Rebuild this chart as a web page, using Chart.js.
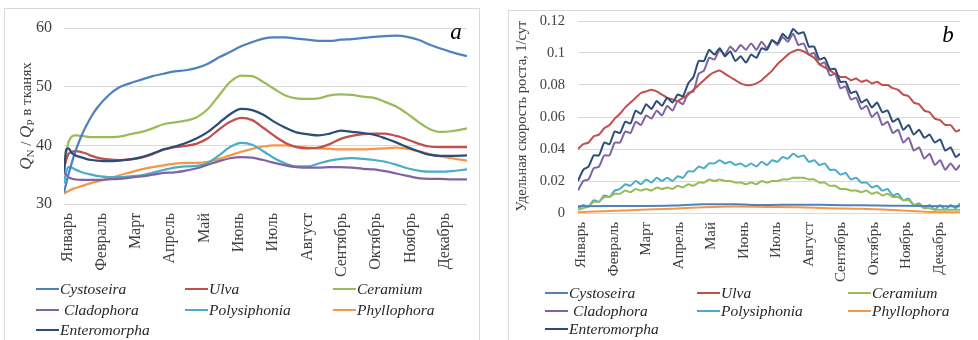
<!DOCTYPE html>
<html>
<head>
<meta charset="utf-8">
<script src="https://cdn.jsdelivr.net/npm/chart.js@4.4.1/dist/chart.umd.min.js"></script>
<style>
  body { margin:0; background:#fff; width:978px; height:340px; overflow:hidden; position:relative; font-family:'Liberation Serif', serif; }
  .panel { position:absolute; border:1px solid #d9d9d9; background:#fff; }
  #panelA { left:4px; top:8px; width:474px; height:340px; }
  #panelB { left:508px; top:10px; width:480px; height:340px; }
  .panel canvas { position:absolute; left:0; top:0; }
  .item { position:absolute; height:18px; white-space:pre; font:italic 15.5px 'Liberation Serif', serif; color:#262626; line-height:18px; }
  .item span { position:absolute; left:0; top:8px; width:23px; height:2px; }
  .item b { position:absolute; left:24px; top:0; font-weight:normal; }
</style>
</head>
<body>
<div class="panel" id="panelA"><canvas id="chartA" width="474" height="270"></canvas></div>
<div class="panel" id="panelB"><canvas id="chartB" width="470" height="277"></canvas></div>
<script>
// months on the x axis
var monthLabels = ['Январь','Февраль','Март','Апрель','Май','Июнь','Июль','Август','Сентябрь','Октябрь','Ноябрь','Декабрь'];
var seriesNames = ['Cystoseira','Ulva','Ceramium','Cladophora','Polysiphonia','Phyllophora','Enteromorpha'];
var seriesColors = ['#4F81BD','#C0504D','#9BBB59','#8064A2','#4BACC6','#F79646','#2C4D75'];

// panel a: QN/QP in tissues (day of year)
var daysA = [0,2,4,7,10,15,20,25,30,40,50,60,70,80,90,100,110,120,130,140,150,160,170,180,190,200,210,220,230,240,250,260,270,280,290,300,310,320,330,340,350,364];
var cystoseiraA = [32.0,33.5,35.0,37.0,38.8,41.3,43.3,45.0,46.4,48.5,49.9,50.6,51.2,51.8,52.2,52.6,52.8,53.2,53.9,55.0,55.9,56.9,57.6,58.2,58.4,58.4,58.2,58.0,57.8,57.8,58.0,58.1,58.3,58.5,58.6,58.7,58.5,58.0,57.2,56.5,55.9,55.2];
var ulvaA = [36.0,37.5,38.5,38.9,39.0,38.9,38.6,38.2,37.9,37.6,37.5,37.6,37.9,38.5,39.3,39.7,39.9,40.3,41.2,42.7,44.0,44.7,44.3,43.0,41.6,40.4,39.7,39.5,39.6,40.2,41.1,41.6,41.9,42.0,42.0,41.6,41.0,40.3,39.8,39.7,39.7,39.7];
var ceramiumA = [35.5,38.5,40.5,41.5,41.7,41.6,41.5,41.4,41.4,41.4,41.5,41.9,42.3,42.9,43.6,43.9,44.2,44.8,46.2,48.5,50.8,51.9,51.8,50.8,49.6,48.5,48.0,47.9,48.0,48.5,48.7,48.6,48.3,48.1,47.4,46.6,45.4,44.0,42.8,42.3,42.4,42.9];
var cladophoraA = [35.5,35.0,34.6,34.3,34.2,34.1,34.1,34.1,34.1,34.2,34.3,34.5,34.7,35.0,35.3,35.4,35.7,36.1,36.7,37.3,37.8,38.0,37.9,37.5,37.0,36.6,36.3,36.2,36.2,36.3,36.3,36.2,36.0,35.9,35.6,35.2,34.8,34.4,34.3,34.3,34.2,34.2];
var polysiphoniaA = [33.5,35.5,36.3,36.2,35.9,35.5,35.2,35.0,34.8,34.6,34.6,34.7,34.9,35.3,35.8,36.2,36.4,36.5,37.0,38.3,39.7,40.4,40.1,39.0,37.8,36.9,36.4,36.4,36.9,37.4,37.7,37.8,37.7,37.5,37.2,36.7,36.1,35.7,35.5,35.5,35.6,35.9];
var phyllophoraA = [31.8,32.0,32.2,32.5,32.7,33.0,33.3,33.6,33.8,34.3,34.9,35.4,35.9,36.3,36.6,36.9,37.0,37.0,37.2,37.7,38.3,38.9,39.4,39.8,40.0,40.0,39.8,39.6,39.5,39.4,39.3,39.3,39.3,39.4,39.5,39.6,39.4,39.0,38.5,38.1,37.8,37.4];
var enteromorphaA = [35.5,39.3,39.5,38.7,38.3,38.0,37.7,37.5,37.4,37.3,37.4,37.6,38.0,38.6,39.3,39.8,40.4,41.2,42.3,43.8,45.3,46.2,46.0,45.2,44.0,43.0,42.2,41.9,41.7,42.0,42.5,42.3,42.1,41.8,41.2,40.5,39.7,39.0,38.4,38.2,38.2,38.3];

// panel b: specific growth rate, 1/day
var daysB = [0,5,10,15,20,25,30,35,40,45,50,55,60,65,70,75,80,85,90,95,100,105,110,115,120,125,130,135,140,145,150,155,160,165,170,175,180,185,190,195,200,205,210,215,220,225,230,235,240,245,250,255,260,265,270,275,280,285,290,295,300,305,310,315,320,325,330,335,340,345,350,355,360,364];
var daysBCoarse = [0,30,60,90,120,150,180,210,240,270,300,330,364];
var cystoseiraB = [.0042,.0043,.0044,.0047,.0055,.0054,.0050,.0052,.0050,.0048,.0046,.0044,.0042];
var phyllophoraB = [.0005,.0012,.0020,.0027,.0036,.0040,.0038,.0036,.0030,.0026,.0018,.0008,.0004];
var ulvaB = [.040,.043,.044,.048,.049,.053,.055,.059,.062,.066,.069,.072,.075,.076,.077,.076,.074,.072,.071,.070,.072,.074,.077,.080,.083,.086,.088,.089,.087,.085,.083,.081,.080,.080,.081,.083,.086,.089,.093,.096,.099,.101,.102,.101,.099,.097,.093,.091,.089,.087,.085,.085,.083,.084,.082,.083,.081,.082,.080,.080,.078,.077,.074,.073,.069,.068,.064,.063,.059,.058,.055,.055,.051,.052];
var ceramiumB = [.002,.003,.004,.007,.007,.010,.010,.012,.012,.014,.013,.015,.014,.015,.014,.016,.015,.016,.015,.017,.016,.018,.017,.019,.019,.021,.020,.021,.020,.020,.019,.019,.018,.019,.018,.020,.019,.020,.020,.021,.021,.022,.022,.022,.021,.021,.019,.019,.017,.017,.015,.015,.014,.014,.013,.014,.012,.013,.011,.012,.010,.010,.008,.008,.005,.005,.003,.003,.002,.002,.002,.002,.002,.002];
var cladophoraB = [.014,.020,.021,.028,.029,.036,.036,.044,.044,.051,.050,.057,.055,.061,.059,.064,.061,.067,.064,.070,.068,.075,.076,.087,.089,.097,.096,.102,.099,.104,.101,.105,.102,.106,.102,.107,.103,.108,.105,.110,.107,.112,.105,.106,.099,.100,.093,.094,.086,.087,.078,.079,.071,.072,.065,.067,.060,.063,.055,.057,.050,.052,.044,.047,.039,.041,.034,.037,.030,.033,.027,.031,.027,.030];
var polysiphoniaB = [.003,.005,.004,.008,.007,.011,.010,.014,.015,.018,.017,.020,.018,.021,.019,.022,.020,.022,.020,.023,.022,.026,.026,.029,.028,.031,.031,.033,.031,.032,.030,.031,.029,.031,.029,.032,.030,.033,.032,.035,.034,.037,.035,.036,.032,.033,.030,.031,.027,.027,.024,.025,.021,.022,.019,.019,.016,.017,.014,.015,.011,.012,.008,.009,.005,.006,.003,.005,.002,.005,.002,.005,.003,.006];
var enteromorphaB = [.020,.027,.029,.036,.036,.044,.043,.051,.050,.057,.056,.064,.062,.068,.065,.070,.067,.072,.069,.074,.073,.081,.085,.095,.095,.102,.099,.103,.098,.101,.095,.098,.094,.099,.097,.103,.102,.108,.106,.112,.109,.115,.112,.113,.104,.104,.096,.097,.090,.090,.082,.082,.075,.076,.069,.071,.066,.069,.063,.064,.057,.059,.052,.055,.049,.052,.047,.049,.044,.046,.039,.041,.035,.037];

var FONT = "'Liberation Serif', serif";
var TEXT = '#404040';

function pts(days, vals) {
  return vals.map(function (v, i) { return { x: days[i], y: v }; });
}

function makeSets(list, width, tension) {
  return list.map(function (s, i) {
    return {
      label: seriesNames[i],
      data: pts(s[0], s[1]),
      borderColor: seriesColors[i],
      backgroundColor: seriesColors[i],
      borderWidth: width,
      pointRadius: 0,
      tension: tension,
      cubicInterpolationMode: s[2] ? 'monotone' : 'default',
      order: i === 6 ? -1 : 0
    };
  });
}

// y title and corner letter
var decor = {
  id: 'decor',
  afterDraw: function (chart, args, o) {
    var ctx = chart.ctx;
    ctx.save();
    ctx.fillStyle = TEXT;
    ctx.translate(o.titleX, o.titleY);
    ctx.rotate(-Math.PI / 2);
    ctx.textBaseline = 'middle';
    var total = 0;
    o.title.forEach(function (p) { ctx.font = p.font; p.w = ctx.measureText(p.text).width; total += p.w; });
    var x = -total / 2;
    o.title.forEach(function (p) { ctx.font = p.font; ctx.fillText(p.text, x, p.dy || 0); x += p.w; });
    ctx.restore();
    ctx.save();
    ctx.font = 'italic 23px ' + FONT;
    ctx.fillStyle = '#000';
    ctx.textAlign = 'center';
    ctx.fillText(o.letter, o.letterX, o.letterY);
    ctx.restore();
  }
};

function xAxis(size, axisH) {
  return {
    type: 'linear', min: 0, max: 364,
    grid: { display: false, drawTicks: false },
    border: { display: false },
    // Excel put a label every 31 days; text sits a little right of the tick
    afterBuildTicks: function (s) { s.ticks = monthLabels.map(function (m, i) { return { value: i * 31 + 3 }; }); },
    ticks: {
      autoSkip: false, minRotation: 90, maxRotation: 90, padding: 9, color: TEXT,
      font: { family: FONT, size: size },
      callback: function (v, i) { return monthLabels[i]; }
    },
    afterFit: function (s) { s.height = axisH; }
  };
}

function fixY(w) {
  return function (s) { s.width = w; s.paddingTop = 0; s.paddingBottom = 0; };
}

new Chart(document.getElementById('chartA'), {
  type: 'line',
  data: {
    datasets: makeSets([
      [daysA, cystoseiraA, 1], [daysA, ulvaA, 1], [daysA, ceramiumA, 1], [daysA, cladophoraA, 1],
      [daysA, polysiphoniaA, 1], [daysA, phyllophoraA, 1], [daysA, enteromorphaA, 1]
    ], 2.25, 0.4)
  },
  options: {
    responsive: false, animation: false,
    layout: { padding: { left: 0, right: 12, top: 19, bottom: 0 } },
    plugins: {
      legend: { display: false }, tooltip: { enabled: false },
      decor: {
        titleX: 22, titleY: 107, letter: 'a', letterX: 451, letterY: 30,
        title: [
          { text: 'Q', font: 'italic 17px ' + FONT },
          { text: 'N', font: '11px ' + FONT, dy: 4 },
          { text: ' / ', font: '15px ' + FONT },
          { text: 'Q', font: 'italic 17px ' + FONT },
          { text: 'P', font: '11px ' + FONT, dy: 4 },
          { text: ' в тканях', font: '15px ' + FONT }
        ]
      }
    },
    scales: {
      x: xAxis(16, 75),
      y: {
        min: 30, max: 60,
        grid: { color: '#d9d9d9', drawTicks: false },
        border: { display: false },
        ticks: { stepSize: 10, padding: 12, color: TEXT, font: { family: FONT, size: 16 } },
        afterFit: fixY(59)
      }
    }
  },
  plugins: [decor]
});

new Chart(document.getElementById('chartB'), {
  type: 'line',
  data: {
    datasets: makeSets([
      [daysBCoarse, cystoseiraB, 1], [daysB, ulvaB, 0], [daysB, ceramiumB, 0], [daysB, cladophoraB, 0],
      [daysB, polysiphoniaB, 0], [daysBCoarse, phyllophoraB, 1], [daysB, enteromorphaB, 0]
    ], 2, 0.2)
  },
  options: {
    responsive: false, animation: false,
    layout: { padding: { left: 0, right: 19, top: 10, bottom: 0 } },
    plugins: {
      legend: { display: false }, tooltip: { enabled: false },
      decor: {
        titleX: 13, titleY: 105, letter: 'b', letterX: 439, letterY: 31,
        title: [{ text: 'Удельная скорость роста, 1/сут', font: '14.5px ' + FONT }]
      }
    },
    scales: {
      x: xAxis(15, 75),
      y: {
        min: 0, max: 0.12,
        grid: { color: '#d9d9d9', drawTicks: false },
        border: { display: false },
        ticks: {
          stepSize: 0.02, padding: 13, color: TEXT, font: { family: FONT, size: 14.5 },
          callback: function (v) { return String(Math.round(v * 100) / 100); }
        },
        afterFit: fixY(69)
      }
    }
  },
  plugins: [decor]
});

// legends: 3 columns like the original
function legend(cols, rows) {
  seriesNames.forEach(function (name, i) {
    var d = document.createElement('div');
    d.className = 'item';
    d.style.left = cols[i % 3] + 'px';
    d.style.top = (rows[Math.floor(i / 3)] - 9) + 'px';
    var line = document.createElement('span');
    line.style.background = seriesColors[i];
    var t = document.createElement('b');
    t.textContent = (name === 'Cladophora' ? ' ' : '') + name;
    d.appendChild(line);
    d.appendChild(t);
    document.body.appendChild(d);
  });
}
legend([36, 185, 333], [289, 310, 330]);
legend([545, 697, 848], [293, 311, 329]);
</script>
</body>
</html>
